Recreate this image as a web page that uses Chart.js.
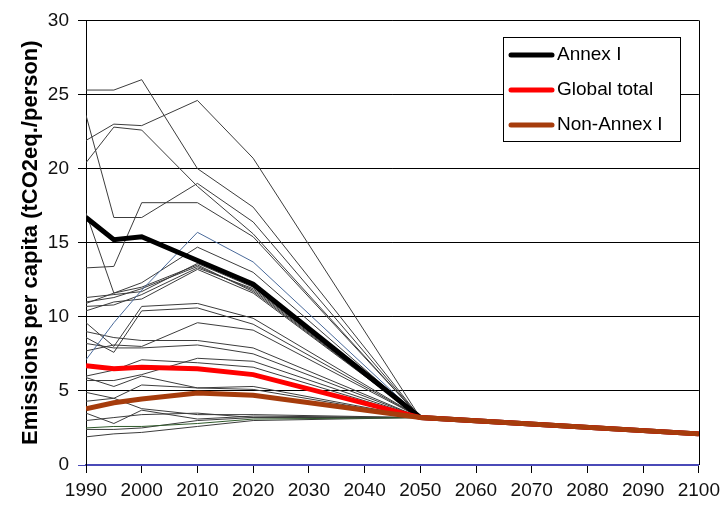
<!DOCTYPE html>
<html>
<head>
<meta charset="utf-8">
<script src="https://cdn.jsdelivr.net/npm/chart.js@4/dist/chart.umd.min.js"></script>
<style>
  html, body { margin: 0; padding: 0; background: #fff; }
  #wrap { width: 726px; height: 505px; }
</style>
</head>
<body>
<div id="wrap"><canvas id="chart" width="726" height="505"></canvas></div>
<script>
// years where the scenario has values; after 2050 everything converges
const years = [1990, 1995, 2000, 2010, 2020, 2050, 2100];
const xTicks = [1990, 2000, 2010, 2020, 2030, 2040, 2050, 2060, 2070, 2080, 2090, 2100];
const yTicks = [0, 5, 10, 15, 20, 25, 30];

const annexI = [16.7, 15.2, 15.4, 13.8, 12.2, 3.2, 2.1];
const globalTotal = [6.7, 6.5, 6.6, 6.5, 6.1, 3.2, 2.1];
const nonAnnexI = [3.8, 4.2, 4.45, 4.85, 4.7, 3.2, 2.1];

// individual countries / regions (thin lines)
const blueRegion = [7.1, 9.6, 11.8, 15.7, 13.7, 3.2, 2.1];
const greenRegion = [2.5, 2.6, 2.6, 2.8, 3.1, 3.2, 2.1];
const greyRegions = [
  [25.3, 25.3, 26.0, 20.0, 17.4, 3.2, 2.1],
  [21.9, 23.0, 22.9, 24.6, 20.7, 3.2, 2.1],
  [23.6, 16.7, 16.7, 19.0, 16.4, 3.2, 2.1],
  [20.4, 22.8, 22.6, 18.8, 15.6, 3.2, 2.1],
  [13.3, 13.4, 17.7, 17.7, 15.4, 3.2, 2.1],
  [17.0, 11.6, 12.3, 14.7, 13.0, 3.2, 2.1],
  [11.3, 11.5, 11.7, 13.6, 12.0, 3.2, 2.1],
  [11.0, 11.3, 11.9, 13.4, 11.8, 3.2, 2.1],
  [10.7, 10.8, 11.5, 13.3, 11.9, 3.2, 2.1],
  [10.9, 11.6, 12.0, 13.5, 11.7, 3.2, 2.1],
  [10.4, 11.0, 11.2, 13.2, 11.6, 3.2, 2.1],
  [9.6, 8.0, 10.7, 10.9, 9.9, 3.2, 2.1],
  [8.6, 7.6, 10.4, 10.6, 9.5, 3.2, 2.1],
  [9.0, 8.6, 8.4, 8.4, 7.9, 3.2, 2.1],
  [7.7, 8.1, 8.0, 9.6, 9.1, 3.2, 2.1],
  [8.2, 7.9, 7.9, 8.1, 7.5, 3.2, 2.1],
  [6.0, 6.4, 7.1, 6.9, 6.6, 3.2, 2.1],
  [5.7, 5.7, 6.1, 7.2, 7.0, 3.2, 2.1],
  [5.9, 5.3, 6.0, 5.2, 5.1, 3.2, 2.1],
  [4.9, 4.5, 5.4, 5.2, 5.3, 3.2, 2.1],
  [4.3, 4.5, 3.8, 3.4, 3.4, 3.2, 2.1],
  [3.5, 2.8, 3.7, 3.1, 3.3, 3.2, 2.1],
  [2.4, 2.4, 2.5, 3.0, 3.2, 3.2, 2.1],
  [1.9, 2.1, 2.2, 2.6, 3.0, 3.2, 2.1],
  [3.0, 3.2, 3.4, 3.5, 3.2, 3.2, 2.1]
];

const FONT = '"Liberation Sans", Arial, sans-serif';

function pts(vals) {
  return vals.map((v, i) => ({ x: years[i], y: v }));
}

function thick(label, vals, color) {
  return { label, data: pts(vals), borderColor: color, borderWidth: 5,
    pointRadius: 0, tension: 0, inLegend: true };
}

function thin(vals, color) {
  return { label: '', data: pts(vals), borderColor: color, borderWidth: 1,
    pointRadius: 0, tension: 0 };
}

// first dataset is painted last, so the thick ones go first
const datasets = [
  thick('Non-Annex I', nonAnnexI, '#a63c0c'),
  thick('Global total', globalTotal, '#ff0000'),
  thick('Annex I', annexI, '#000000'),
  thin(greenRegion, '#2f5a2a'),
  thin(blueRegion, '#4a6a9a')
];
greyRegions.forEach(r => datasets.push(thin(r, '#3c3c3c')));

// boxed legend inside the plot, top right
const boxLegend = {
  id: 'boxLegend',
  afterDraw(chart) {
    const ctx = chart.ctx;
    const items = chart.data.datasets.filter(d => d.inLegend).reverse();
    const x0 = 503, y0 = 37, w = 177, h = 104;
    ctx.save();
    ctx.fillStyle = '#fff';
    ctx.fillRect(x0, y0, w, h);
    ctx.strokeStyle = '#000';
    ctx.lineWidth = 1;
    ctx.strokeRect(x0 + 0.5, y0 + 0.5, w, h);
    ctx.font = '19px ' + FONT;
    ctx.textBaseline = 'middle';
    items.forEach((d, i) => {
      const y = y0 + 18 + i * 35;
      ctx.strokeStyle = d.borderColor;
      ctx.lineWidth = 5;
      ctx.lineCap = 'round';
      ctx.beginPath();
      ctx.moveTo(x0 + 8, y);
      ctx.lineTo(x0 + 49, y);
      ctx.stroke();
      ctx.fillStyle = '#000';
      ctx.fillText(d.label, x0 + 54, y);
    });
    ctx.restore();
  }
};

// right-hand frame line
const rightFrame = {
  id: 'rightFrame',
  beforeDatasetsDraw(chart) {
    const a = chart.chartArea, ctx = chart.ctx;
    ctx.save();
    ctx.strokeStyle = '#000';
    ctx.lineWidth = 1;
    ctx.beginPath();
    ctx.moveTo(Math.round(a.right) + 0.5, a.top);
    ctx.lineTo(Math.round(a.right) + 0.5, a.bottom);
    ctx.stroke();
    ctx.restore();
  }
};

new Chart(document.getElementById('chart'), {
  type: 'line',
  data: { datasets },
  options: {
    responsive: false,
    animation: false,
    layout: { padding: { top: 20, right: 22, left: 0, bottom: 0 } },
    plugins: { legend: { display: false }, tooltip: { enabled: false } },
    scales: {
      x: {
        type: 'linear',
        min: 1990, max: 2100,
        afterBuildTicks: s => { s.ticks = xTicks.map(v => ({ value: v })); },
        afterFit: s => { s.height = 40; },
        ticks: { color: '#111', font: { family: FONT, size: 19 }, padding: 6,
          maxRotation: 0, autoSkip: false, callback: v => String(v) },
        grid: { drawOnChartArea: false, color: '#000', tickLength: 8 },
        border: { color: '#4a4ab8', width: 1.5 }
      },
      y: {
        min: 0, max: 30,
        afterBuildTicks: s => { s.ticks = yTicks.map(v => ({ value: v })); },
        afterFit: s => { s.width = 86; },
        ticks: { color: '#111', font: { family: FONT, size: 19 }, padding: 9 },
        grid: {
          color: c => (c.tick && c.tick.value === 0 ? '#4a4ab8' : '#000'),
          lineWidth: 1, tickLength: 8
        },
        border: { color: '#000', width: 1 },
        title: { display: true, text: 'Emissions per capita (tCO2eq./person)',
          color: '#000', font: { family: FONT, size: 22, weight: 'bold' },
          padding: { top: 18, bottom: 0 } }
      }
    }
  },
  plugins: [rightFrame, boxLegend]
});
</script>
</body>
</html>
